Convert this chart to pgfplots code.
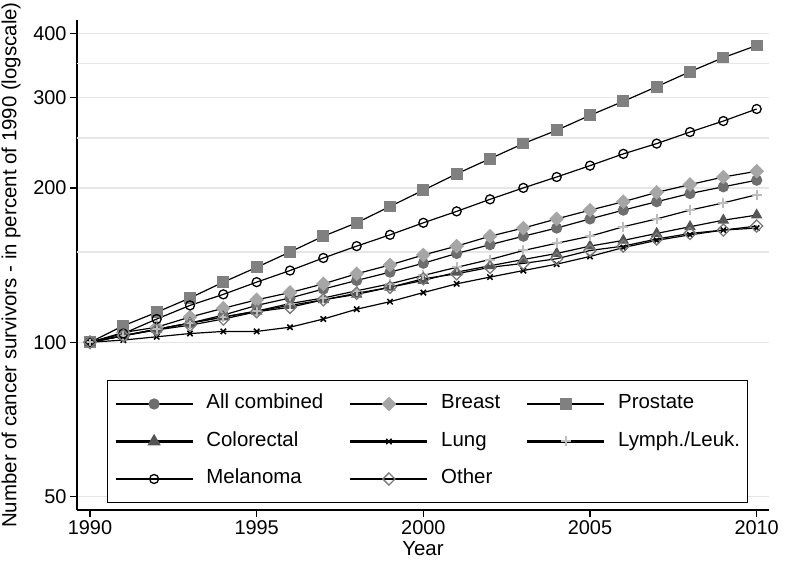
\documentclass[border=0pt]{standalone}
\usepackage{fontspec}
\setmainfont{Liberation Sans}
\usepackage{pgfplots}
\usepackage{pgfplotstable}
\pgfplotsset{compat=1.18}
\definecolor{cAll}{HTML}{6E6E6E}
\definecolor{cBreast}{HTML}{A6A6A6}
\definecolor{cPros}{HTML}{808080}
\definecolor{cColo}{HTML}{555555}
\definecolor{cLymph}{HTML}{BDBDBD}
\definecolor{cOther}{HTML}{7A7A7A}
\definecolor{gridc}{HTML}{E6E6E6}

\pgfplotstableread{
year all breast prostate colo lung lymph melanoma other
1990 100 100 100 100 100 100 100 100
1991 103 104.5 107.7 103 101 103 104 103
1992 106 107 114.4 106 102.5 106 111 105.7
1993 109 112 122 109 104 109 118 108
1994 113 116.5 131 112 105 112 124 111
1995 118 121 140 115 105 115 131 114.7
1996 122 125 150 118 107 119 138 117
1997 127 130 161 121 111 122 146 121
1998 132 136 171 124 116 126 154 124.6
1999 137 141.5 184 128 120 130 162 128
2000 142.6 148 198 132 125 135 171 133
2001 149 154 213 137 130 140 180 136
2002 155 161 228 141 134 145 190 140
2003 161 167 244 145 138 151 200 142.5
2004 167 174 259 149 142 156 210 145.5
2005 174 181 277 154 147 161 221 151
2006 181 188 295 158 153 168 233 154
2007 188 196 315 163 158 174 244 159
2008 195 203 337 168 162 181 257 163
2009 201 210 359 173 165.5 187 270 165.5
2010 207 215.5 379 177 167 194 285 168.5
}\data

\begin{document}
\begin{tikzpicture}
\useasboundingbox (-77bp,-53bp) rectangle (708bp,510bp);
\begin{axis}[
  at={(0,0)}, anchor=south west,
  scale only axis, width=692bp, height=490bp,
  ymode=log,
  xmin=1989.61, xmax=2010.37, ymin=47.1, ymax=425,
  axis x line*=bottom, axis y line*=left,
  axis line style={line width=1.2bp, black},
  tick align=outside, major tick length=7bp,
  tick style={line width=1.2bp, black},
  minor ytick={},
  xtick={1990,1995,2000,2005,2010},
  xticklabels={1990,1995,2000,2005,2010},
  ytick={50,100,200,300,400},
  yticklabels={50,100,200,300,400},
  extra y ticks={150,250,350},
  extra y tick labels={},
  extra y tick style={ymajorgrids=true, major tick length=0pt, tick style={draw=none}},
  ymajorgrids,
  major grid style={line width=1.5bp, draw=gridc},
  tick label style={font=\fontsize{20}{23}\selectfont},
  xticklabel style={inner ysep=3bp},
  label style={font=\fontsize{20.5}{24}\selectfont},
  xlabel={Year},
  ylabel={Number of cancer survivors - in percent of 1990 (logscale)},
  xlabel style={at={(axis description cs:0.5,-0.0796)}, anchor=center},
  ylabel style={at={(axis description cs:-0.0954,0.5)}, anchor=center},
  legend columns=3,
  legend cell align=left,
  legend style={at={(axis description cs:0.04335,0.2653)}, anchor=north west,
    draw=black, line width=1bp, fill=white,
    font=\fontsize{20.5}{24}\selectfont,
    inner xsep=7bp, inner ysep=14bp,
    row sep=18.5bp, column sep=12.7bp,
    /tikz/every even column/.append style={column sep=26bp},
    nodes={inner sep=0pt, text height=14.5bp, text depth=4.5bp}},
  legend image code/.code={\draw[mark repeat=2,mark phase=2,#1] plot coordinates {(0bp,0bp) (38.5bp,0bp) (77bp,0bp)};},
]
\addplot[black, line width=1.2bp, mark=*, mark size=5bp, mark options={solid, fill=cAll, draw=cAll}] table[x=year,y=all] {\data};
\addlegendentry{All combined}
\addplot[black, line width=1.2bp, mark=square*, mark size=4.6bp, mark options={solid, rotate=45, fill=cBreast, draw=cBreast}] table[x=year,y=breast] {\data};
\addlegendentry{Breast}
\addplot[black, line width=1.2bp, mark=square*, mark size=5.3bp, mark options={solid, fill=cPros, draw=cPros}] table[x=year,y=prostate] {\data};
\addlegendentry{Prostate}
\addplot[black, line width=1.2bp, mark=triangle*, mark size=5.5bp, mark options={solid, fill=cColo, draw=cColo}, legend image post style={line width=2.2bp}] table[x=year,y=colo] {\data};
\addlegendentry{Colorectal}
\addplot[black, line width=1.2bp, mark=x, mark size=3.8bp, mark options={solid, draw=black, line width=1.5bp}, legend image post style={line width=2.2bp}] table[x=year,y=lung] {\data};
\addlegendentry{Lung}
\addplot[black, line width=1.2bp, mark=+, mark size=5bp, mark options={solid, draw=cLymph, line width=2bp}, legend image post style={line width=2.2bp}] table[x=year,y=lymph] {\data};
\addlegendentry{Lymph./Leuk.}
\addplot[black, line width=1.2bp, mark=o, mark size=4.5bp, mark options={solid, draw=black, fill=white, line width=1.3bp}, legend image post style={line width=2.2bp}] table[x=year,y=melanoma] {\data};
\addlegendentry{Melanoma}
\addplot[black, line width=1.2bp, mark=square, mark size=4.3bp, mark options={solid, rotate=45, draw=cOther, fill=white, line width=1.3bp}, legend image post style={line width=2.2bp}] table[x=year,y=other] {\data};
\addlegendentry{Other}
\end{axis}
\end{tikzpicture}
\end{document}
